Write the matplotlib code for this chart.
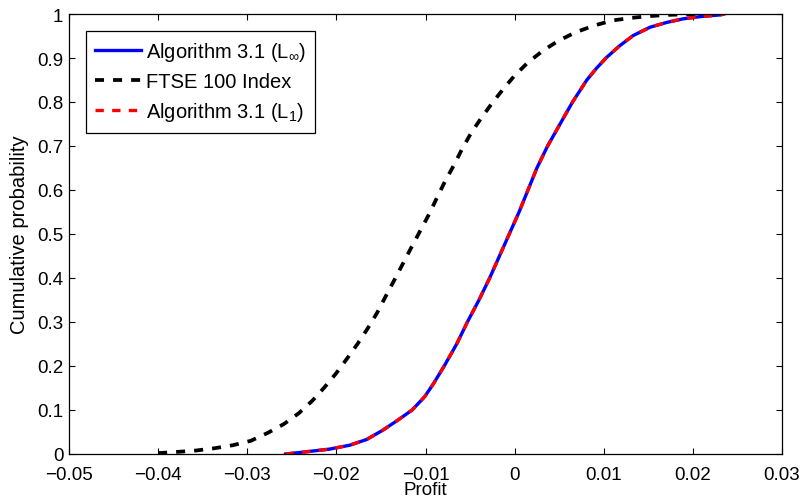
import numpy as np
import matplotlib
matplotlib.use('Agg')
import matplotlib.pyplot as plt

plt.rcParams['font.family'] = ['Liberation Sans', 'DejaVu Sans']
plt.rcParams['mathtext.fontset'] = 'custom'
plt.rcParams['mathtext.rm'] = 'Liberation Sans'
plt.rcParams['mathtext.it'] = 'Liberation Sans'
plt.rcParams['lines.scale_dashes'] = False

ftse_profit = [-0.0400, -0.0377, -0.0357, -0.0337, -0.0316, -0.0296, -0.0277,
               -0.0259, -0.0242, -0.0227, -0.0214, -0.0200, -0.0188, -0.0176,
               -0.0165, -0.0154, -0.0144, -0.0134, -0.0125, -0.0116, -0.0106,
               -0.0096, -0.0087, -0.0078, -0.0068, -0.0059, -0.0049, -0.0037,
               -0.0025, -0.0013, 0.0000, 0.0015, 0.0032, 0.0049, 0.0068,
               0.0088, 0.0109, 0.0130, 0.0150, 0.0171, 0.0189, 0.0208, 0.0215]
ftse_cdf = [0.002, 0.005, 0.008, 0.013, 0.020, 0.030, 0.048,
            0.068, 0.093, 0.121, 0.150, 0.184, 0.217, 0.251,
            0.285, 0.322, 0.361, 0.399, 0.434, 0.469, 0.507,
            0.545, 0.583, 0.620, 0.657, 0.693, 0.729, 0.765,
            0.798, 0.829, 0.860, 0.890, 0.917, 0.939, 0.958,
            0.973, 0.985, 0.991, 0.995, 0.998, 0.999, 1.000, 1.000]

# Algorithm 3.1, L_inf norm
linf_profit = [-0.0257, -0.0234, -0.0208, -0.0185, -0.0166, -0.0148, -0.0131,
               -0.0115, -0.0101, -0.0091, -0.0079, -0.0065, -0.0053, -0.0040,
               -0.0028, -0.0017, -0.0006, 0.0005, 0.0015, 0.0025, 0.0037,
               0.0051, 0.0065, 0.0081, 0.0092, 0.0103, 0.0118, 0.0133,
               0.0152, 0.0171, 0.0189, 0.0208, 0.0231, 0.0235]
linf_cdf = [0.000, 0.005, 0.011, 0.020, 0.033, 0.054, 0.077,
            0.100, 0.130, 0.160, 0.200, 0.250, 0.300, 0.350,
            0.400, 0.450, 0.500, 0.550, 0.600, 0.650, 0.700,
            0.750, 0.800, 0.850, 0.877, 0.901, 0.928, 0.951,
            0.970, 0.981, 0.989, 0.994, 0.998, 1.000]

# Algorithm 3.1, L_1 norm (lies on top of the L_inf curve)
l1_profit = list(linf_profit)
l1_cdf = list(linf_cdf)

fig = plt.figure(figsize=(8.01, 5.02), dpi=100)
ax = fig.add_axes([69 / 801, 1 - 455 / 502, 713 / 801, 440 / 502])

ax.plot(linf_profit, linf_cdf, color='blue', lw=2.4, label=r'Algorithm 3.1 (L$_{\infty}$)')
ax.plot(ftse_profit, ftse_cdf, color='black', lw=2.7, dashes=(6.5, 6.5),
        label='FTSE 100 Index')
ax.plot(l1_profit, l1_cdf, color='red', lw=2.4, dashes=(6.0, 6.0),
        label=r'Algorithm 3.1 (L$_1$)')

ax.set_xlim(-0.05, 0.03)
ax.set_ylim(0, 1)
ax.set_xticks(np.arange(-0.05, 0.0301, 0.01))
ax.set_xticklabels(['\u22120.05', '\u22120.04', '\u22120.03', '\u22120.02',
                    '\u22120.01', '0', '0.01', '0.02', '0.03'])
ax.set_yticks(np.arange(0, 1.01, 0.1))
ax.set_yticklabels(['0', '0.1', '0.2', '0.3', '0.4', '0.5', '0.6', '0.7',
                    '0.8', '0.9', '1'])
ax.tick_params(direction='in', top=True, right=True, length=4.5, width=0.8,
               labelsize=13.5)
ax.tick_params(axis='x', pad=8.5)
ax.tick_params(axis='y', pad=4)
for s in ax.spines.values():
    s.set_linewidth(0.9)

ax.set_xlabel('Profit', fontsize=13.5, labelpad=-1)
ax.set_ylabel('Cumulative probability', fontsize=14.5, labelpad=6)

leg = ax.legend(loc='upper left', bbox_to_anchor=(16.7 / 713, 1 - 17.3 / 440),
                borderaxespad=0, fancybox=False, framealpha=1, fontsize=14.5,
                handlelength=2.3, handletextpad=0.25, labelspacing=0.45,
                borderpad=0.45)
leg.get_frame().set_edgecolor('black')
leg.get_frame().set_linewidth(0.9)

fig.savefig('out.png', dpi=100)
